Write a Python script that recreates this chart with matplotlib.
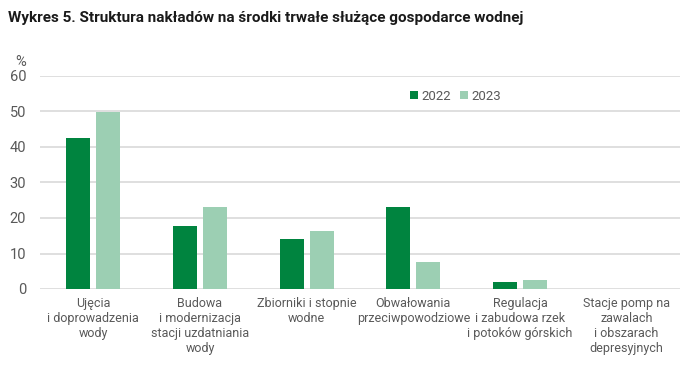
import matplotlib
matplotlib.use("Agg")
import matplotlib.pyplot as plt
import numpy as np

# data
categories = [
    "Ujęcia\ni doprowadzenia\nwody",
    "Budowa\ni modernizacja\nstacji uzdatniania\nwody",
    "Zbiorniki i stopnie\nwodne",
    "Obwałowania\nprzeciwpowodziowe",
    "Regulacja\ni zabudowa rzek\ni potoków górskich",
    "Stacje pomp na\nzawalach\ni obszarach\ndepresyjnych",
]
series_names = ["2022", "2023"]
values_2022 = [42.5, 17.7, 14.1, 23.1, 1.9, 0.0]
values_2023 = [49.9, 23.1, 16.3, 7.7, 2.4, 0.0]
yticks = [0, 10, 20, 30, 40, 50, 60]

dark = "#00843f"
light = "#9ccfb3"
grey_txt = "#595959"
fam = ["Roboto", "DejaVu Sans"]

fig = plt.figure(figsize=(6.91, 3.91), dpi=100)
ax = fig.add_axes([40 / 691, 1 - 289 / 391, 640 / 691, 213 / 391])

x = np.arange(len(categories))
w = 0.224
off = 0.14
ax.bar(x - off, values_2022, w, color=dark, label=series_names[0], zorder=3)
ax.bar(x + off, values_2023, w, color=light, label=series_names[1], zorder=3)

ax.set_xlim(-0.5, len(categories) - 0.5)
ax.set_ylim(0, 60)
ax.set_yticks(yticks)
ax.grid(axis="y", color="#d9d9d9", linewidth=1.2, zorder=0)
ax.set_xticks(x)
ax.set_xticklabels(categories, family=fam, fontsize=9, color=grey_txt,
                   linespacing=1.2, va="top")
for lab in ax.get_yticklabels():
    lab.set_family(fam)
    lab.set_fontsize(10.5)
    lab.set_color(grey_txt)
ax.tick_params(length=0, pad=10)
ax.tick_params(axis="x", pad=6)
for s in ax.spines.values():
    s.set_visible(False)

ax.text(-0.03, 1.035, "%", transform=ax.transAxes, ha="center", va="bottom",
        family=fam, fontsize=10.5, color=grey_txt)

leg = ax.legend(loc="center left", bbox_to_anchor=(0.56, 0.905), ncol=2,
                frameon=False, handlelength=0.55, handleheight=0.55,
                handletextpad=0.3, columnspacing=0.7,
                prop={"family": fam, "size": 9.5})
for t in leg.get_texts():
    t.set_color(grey_txt)

fig.text(8 / 691, 1 - 18 / 391,
         "Wykres 5. Struktura nakładów na środki trwałe służące gospodarce wodnej",
         family=fam, fontsize=11, fontweight="bold", va="center", ha="left",
         color="#1a1a1a")

fig.savefig("out.png", dpi=100, facecolor="white")
